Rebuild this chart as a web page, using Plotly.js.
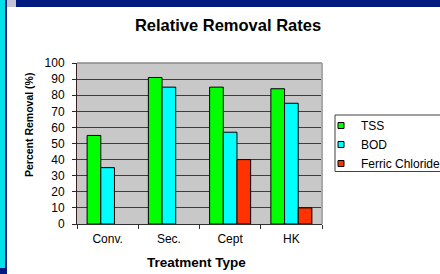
<!DOCTYPE html>
<html>
<head>
<meta charset="utf-8">
<script src="https://cdn.plot.ly/plotly-3.0.1.min.js"></script>
<style>
  html, body { margin: 0; padding: 0; background: #ffffff; overflow: hidden; width: 440px; height: 274px; }
  #frameTop { position: absolute; left: 0; top: 0; width: 440px; height: 7px; background: #001a80; }
  #frameSq { position: absolute; left: 7px; top: 0; width: 9px; height: 7px; background: #c4c4d4; }
  #frameLeft { position: absolute; left: 0; top: 0; width: 5px; height: 268px; background: #00e0e8; }
  #frameLeftBot { position: absolute; left: 0; top: 268px; width: 5px; height: 6px; background: #001a80; }
  #frameLine { position: absolute; left: 5px; top: 0; width: 2px; height: 274px; background: #001a80; }
  #chart { position: absolute; left: 7px; top: 7px; width: 460px; height: 267px; }
</style>
</head>
<body>
<div id="chart"></div>
<div id="frameTop"></div>
<div id="frameSq"></div>
<div id="frameLeft"></div>
<div id="frameLeftBot"></div>
<div id="frameLine"></div>
<script>
// ---- data ----
const categories = ['Conv.', 'Sec.', 'Cept', 'HK'];
const tss = [55, 91, 85, 84];
const bod = [35, 85, 57, 75];
const ferric = [null, null, 40, 10];
const seriesNames = ['TSS', 'BOD', 'Ferric Chloride'];
const yTicks = [0, 10, 20, 30, 40, 50, 60, 70, 80, 90, 100];

// ---- styles ----
const colors = ['#00ff00', '#00ffff', '#ff3300'];
const seriesValues = [tss, bod, ferric];
const FONT = 'Arial, "Liberation Sans", sans-serif';

const traces = [];
seriesValues.forEach(function (vals, i) {
  traces.push({
    type: 'bar', x: categories, y: vals, name: seriesNames[i],
    marker: { color: colors[i], line: { color: '#000000', width: 1 } },
    showlegend: false, legendgroup: 'g' + i, hoverinfo: 'x+y+name'
  });
});
// legend proxies (small square markers like the original)
seriesValues.forEach(function (vals, i) {
  traces.push({
    type: 'scatter', mode: 'markers', x: [null], y: [null], name: seriesNames[i],
    marker: { symbol: 'square', size: 6, color: colors[i], line: { color: '#000000', width: 1 } },
    showlegend: true, legendgroup: 'g' + i, hoverinfo: 'skip'
  });
});

const layout = {
  width: 460, height: 267,
  margin: { l: 70, r: 145, t: 56, b: 50, pad: 0 },
  paper_bgcolor: 'rgba(0,0,0,0)',
  plot_bgcolor: '#c8c8c8',
  font: { family: FONT, size: 12, color: '#000000' },
  barmode: 'group', bargap: 0.33, bargroupgap: 0,
  title: {
    text: '<b>Relative Removal Rates</b>',
    font: { family: FONT, size: 16.5, color: '#000000' },
    xref: 'container', yref: 'container', x: 221 / 460, xanchor: 'center',
    y: 1 - 18 / 267, yanchor: 'middle'
  },
  xaxis: {
    type: 'category', showgrid: false, zeroline: false,
    showline: true, linecolor: '#303030', linewidth: 1,
    ticks: 'outside', ticklen: 4, tickcolor: '#303030', tickson: 'boundaries',
    ticklabelstandoff: 4,
    tickfont: { family: FONT, size: 12, color: '#000000' },
    fixedrange: true
  },
  yaxis: {
    range: [0, 100], tickvals: yTicks, ticktext: yTicks.map(String),
    showgrid: true, gridcolor: '#3c3c3c', gridwidth: 1, zeroline: false,
    showline: true, linecolor: '#3a2020', linewidth: 1,
    ticks: 'outside', ticklen: 4, tickcolor: '#3a2020',
    ticklabelstandoff: 5,
    tickfont: { family: FONT, size: 12, color: '#000000' },
    fixedrange: true
  },
  legend: {
    x: (321 - 7 - 70) / 245, xanchor: 'left',
    y: 1 - (111 - 7 - 56) / 161, yanchor: 'top',
    bgcolor: 'rgba(0,0,0,0)', borderwidth: 0,
    font: { family: FONT, size: 12, color: '#000000' },
    traceorder: 'normal'
  },
  shapes: [
    { type: 'line', xref: 'paper', yref: 'paper', x0: 0, x1: 1, y0: 1, y1: 1, line: { color: '#8a8a8a', width: 1.5 }, layer: 'above' },
    { type: 'line', xref: 'paper', yref: 'paper', x0: 1, x1: 1, y0: 0, y1: 1, line: { color: '#a8a8a8', width: 2 }, layer: 'above' },
    { type: 'rect', xref: 'paper', yref: 'paper',
      x0: (335 - 7 - 70) / 245, x1: (470 - 7 - 70) / 245,
      y0: 1 - (171.5 - 7 - 56) / 161, y1: 1 - (115 - 7 - 56) / 161,
      line: { color: '#404040', width: 1 }, fillcolor: 'rgba(0,0,0,0)' }
  ],
  annotations: [
    { text: '<b>Percent Removal (%)</b>', xref: 'paper', yref: 'paper',
      x: (22 - 70) / 245, y: 1 - (118 - 56) / 161, xanchor: 'center', yanchor: 'middle',
      textangle: -90, showarrow: false, font: { family: FONT, size: 10.5, color: '#000000' } },
    { text: '<b>Treatment Type</b>', xref: 'paper', yref: 'paper',
      x: (189.3 - 70) / 245, y: -(255 - 217) / 161, xanchor: 'center', yanchor: 'middle',
      showarrow: false, font: { family: FONT, size: 13.5, color: '#000000' } }
  ]
};

Plotly.newPlot('chart', traces, layout, { displayModeBar: false, staticPlot: true });
</script>
</body>
</html>
